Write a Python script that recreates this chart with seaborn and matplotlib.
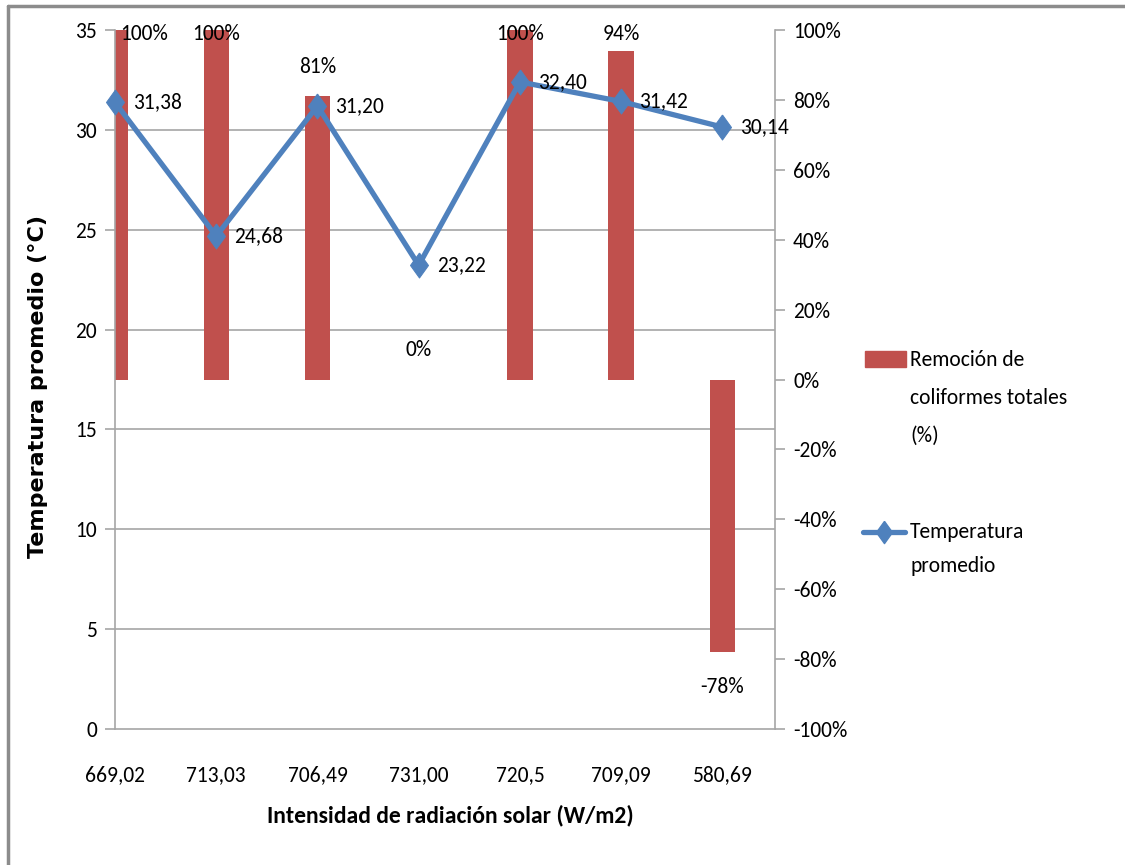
import numpy as np
import matplotlib
matplotlib.use("Agg")
import matplotlib.pyplot as plt
import seaborn as sns
from matplotlib.patches import Rectangle
from matplotlib.lines import Line2D
from matplotlib.ticker import FixedLocator

# data
radiacion = ["669,02", "713,03", "706,49", "731,00", "720,5", "709,09", "580,69"]
remocion = [100, 100, 81, 0, 100, 94, -78]          # % (right axis, bars)
temperatura = [31.38, 24.68, 31.20, 23.22, 32.40, 31.42, 30.14]  # degC (left axis, line)
temp_ticks = [0, 5, 10, 15, 20, 25, 30, 35]
pct_ticks = [-100, -80, -60, -40, -20, 0, 20, 40, 60, 80, 100]

RED = "#C0504D"
BLUE = "#4F81BD"
GRID = "#A6A6A6"
FS = 15.5

sns.set_style("white")
plt.rcParams["font.family"] = ["Carlito", "Roboto Condensed", "DejaVu Sans"]
plt.rcParams["text.color"] = "black"
plt.rcParams["axes.labelcolor"] = "black"
plt.rcParams["xtick.color"] = "black"
plt.rcParams["ytick.color"] = "black"

fig = plt.figure(figsize=(11.25, 8.65), dpi=100)
W, H = 1125, 865
ax = fig.add_axes([115 / W, 1 - 729 / H, (775 - 115) / W, (729 - 30) / H])
ax2 = ax.twinx()

pos = np.arange(len(radiacion))

# bars on the bottom axis (percent scale)
sns.barplot(x=pos, y=remocion, ax=ax, native_scale=True, width=0.25,
            color=RED, saturation=1, edgecolor="none", zorder=2)
ax.set_ylim(-100, 100)
ax.set_xlim(0, 6.52)

# horizontal grid follows the temperature ticks
grid_pos = [-100 + 200 * t / 35 for t in temp_ticks]
ax.yaxis.set_minor_locator(FixedLocator(grid_pos))
ax.grid(which="minor", axis="y", color=GRID, linewidth=1.2, zorder=0)
ax.tick_params(axis="y", which="minor", length=0)
ax.set_axisbelow(True)

ax.yaxis.tick_right()
ax.set_yticks(pct_ticks)
ax.set_yticklabels([f"{p}%" for p in pct_ticks])
ax.tick_params(axis="y", which="major", length=7, width=1.2, color=GRID,
               labelcolor="black", labelsize=FS, pad=6, direction="out")
ax.set_xticks(pos)
ax.set_xticklabels(radiacion)
ax.tick_params(axis="x", length=0, labelsize=FS, pad=26)

for s in ["left", "right", "bottom"]:
    ax.spines[s].set_color(GRID)
    ax.spines[s].set_linewidth(1.2)
ax.spines["top"].set_visible(False)

# bar value labels, kept inside the plot area
for x, v in zip(pos, remocion):
    if v >= 0:
        y = min(v + 8.3, 98.8)
    else:
        y = v - 10
    if x == 0:
        # first label is pushed inside the plot area, as in the reference
        ax.annotate(f"{v}%", (x, y), xytext=(3.5, 0), textcoords="offset points",
                    ha="left", va="center", fontsize=FS, zorder=5)
    else:
        ax.text(x, y, f"{v}%", ha="center", va="center", fontsize=FS, zorder=5)

# temperature line on the twin axis
diamond = [(0, 1), (0.72, 0), (0, -1), (-0.72, 0), (0, 1)]
sns.lineplot(x=pos, y=temperatura, ax=ax2, color=BLUE, linewidth=3.8,
             marker=diamond, markersize=18, markeredgecolor=BLUE,
             markerfacecolor=BLUE, clip_on=False, zorder=3)
ax2.set_ylim(0, 35)
ax2.yaxis.tick_left()
ax2.yaxis.set_label_position("left")
ax2.set_yticks(temp_ticks)
ax2.tick_params(axis="y", length=7, width=1.2, color=GRID, labelcolor="black",
                labelsize=FS, pad=6, direction="out")
for s in ax2.spines.values():
    s.set_visible(False)

for x, t in zip(pos, temperatura):
    ax2.annotate(f"{t:.2f}".replace(".", ","), (x, t), xytext=(13, 0),
                 textcoords="offset points", ha="left", va="center",
                 fontsize=FS, zorder=6, annotation_clip=False)

ax2.set_ylabel("Temperatura promedio (°C)", family="DejaVu Sans",
               fontweight="bold", fontsize=16)
ax2.yaxis.set_label_coords((48 - 115) / 660, 0.49, transform=ax.transAxes)
ax.set_xlabel("Intensidad de radiación solar (W/m2)", fontweight="bold",
              fontsize=17)
ax.xaxis.set_label_coords(0.508, -(805 - 729) / 699)

# legend drawn at the right of the plot
fig.add_artist(Rectangle((865 / W, 1 - 367 / H), 41 / W, 16 / H,
                         transform=fig.transFigure, color=RED))
fig.add_artist(Line2D([863 / W, 905 / W], [1 - 532 / H] * 2,
                      transform=fig.transFigure, color=BLUE, linewidth=3.8))
fig.add_artist(Line2D([884 / W], [1 - 532 / H], transform=fig.transFigure,
                      color=BLUE, marker=diamond, markersize=16))
for i, line in enumerate(["Remoción de", "coliformes totales", "(%)"]):
    fig.text(910 / W, 1 - (360 + 38 * i) / H, line, ha="left", va="center",
             fontsize=FS)
fig.text(910 / W, 1 - 532 / H, "Temperatura", ha="left", va="center",
         fontsize=FS)
fig.text(910 / W, 1 - 566 / H, "promedio", ha="left", va="center",
         fontsize=FS)

# outer frame (only top and left edges are visible in the reference)
fig.add_artist(Line2D([8 / W, 1], [1 - 6 / H] * 2, transform=fig.transFigure,
                      color="#8C8C8C", linewidth=2.5))
fig.add_artist(Line2D([8 / W] * 2, [0, 1 - 6 / H], transform=fig.transFigure,
                      color="#8C8C8C", linewidth=2.5))

fig.savefig("out.png", dpi=100)
